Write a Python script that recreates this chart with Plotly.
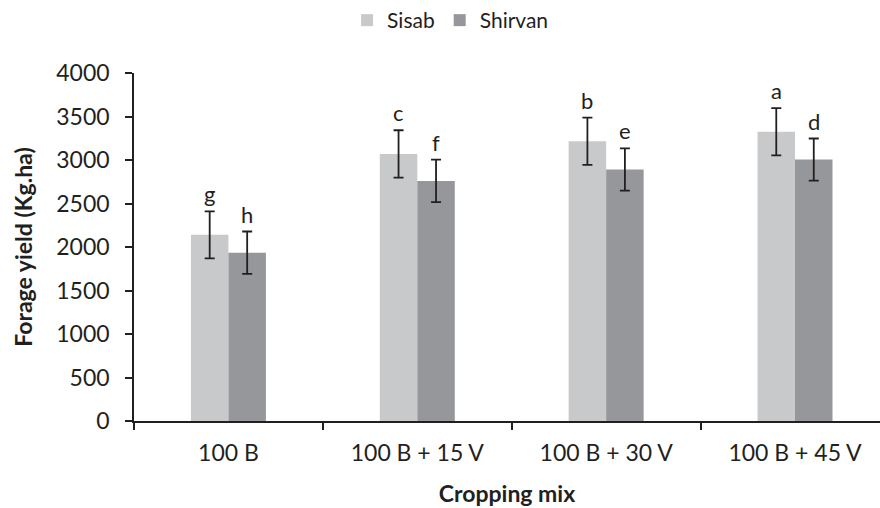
import plotly.graph_objects as go

categories = ["100 B", "100 B + 15 V", "100 B + 30 V", "100 B + 45 V"]
sisab = [2140, 3070, 3215, 3325]
shirvan = [1935, 2760, 2890, 3005]
sisab_err = [270, 272, 272, 272]
shirvan_err = [243, 245, 243, 242]
sisab_letters = ["g", "c", "b", "a"]
shirvan_letters = ["h", "f", "e", "d"]

FONT = "Lato"
TXT = "#231F20"
err_style = dict(type="data", visible=True, color=TXT, thickness=1.8, width=5)

fig = go.Figure()
fig.add_trace(go.Bar(name="Sisab", x=categories, y=sisab,
                     marker=dict(color="#C8C9CB", line=dict(width=0)),
                     error_y=dict(array=sisab_err, **err_style)))
fig.add_trace(go.Bar(name="Shirvan", x=categories, y=shirvan,
                     marker=dict(color="#96979A", line=dict(width=0)),
                     error_y=dict(array=shirvan_err, **err_style)))

for i, c in enumerate(categories):
    fig.add_annotation(x=c, y=sisab[i] + sisab_err[i], text=sisab_letters[i],
                       xshift=-19, yshift=2, yanchor="bottom", showarrow=False,
                       font=dict(family=FONT, size=22, color=TXT))
    fig.add_annotation(x=c, y=shirvan[i] + shirvan_err[i], text=shirvan_letters[i],
                       xshift=19, yshift=2, yanchor="bottom", showarrow=False,
                       font=dict(family=FONT, size=22, color=TXT))

fig.update_layout(
    width=880, height=508,
    margin=dict(l=134, r=0, t=73, b=87),
    paper_bgcolor="white", plot_bgcolor="white",
    barmode="group", bargap=0.603, bargroupgap=0,
    font=dict(family=FONT, size=23, color=TXT),
    legend=dict(orientation="h", x=0.512, xref="container", xanchor="center",
                y=1.0, yref="container", yanchor="top",
                font=dict(family=FONT, size=21, color=TXT),
                itemwidth=30, traceorder="normal"),
    xaxis=dict(range=[-0.5, 3.45], showline=True, linecolor=TXT, linewidth=1.5,
               ticks="outside", tickson="boundaries", ticklen=7, tickcolor=TXT,
               tickwidth=1.5, showgrid=False, ticklabelstandoff=11,
               title=dict(text="<b>Cropping mix</b>", standoff=21,
                          font=dict(family=FONT, size=23, color=TXT)),
               tickfont=dict(family=FONT, size=23, color=TXT)),
    yaxis=dict(range=[0, 4000], dtick=500, showline=True, linecolor=TXT, linewidth=1.5,
               ticks="outside", ticklen=7, tickcolor=TXT, tickwidth=1.5,
               showgrid=False, zeroline=False, ticklabelstandoff=11,
               title=dict(text="<b>Forage yield (Kg.ha)</b>", standoff=17,
                          font=dict(family=FONT, size=23, color=TXT)),
               tickfont=dict(family=FONT, size=23, color=TXT)),
)

fig.write_html("out.html")
